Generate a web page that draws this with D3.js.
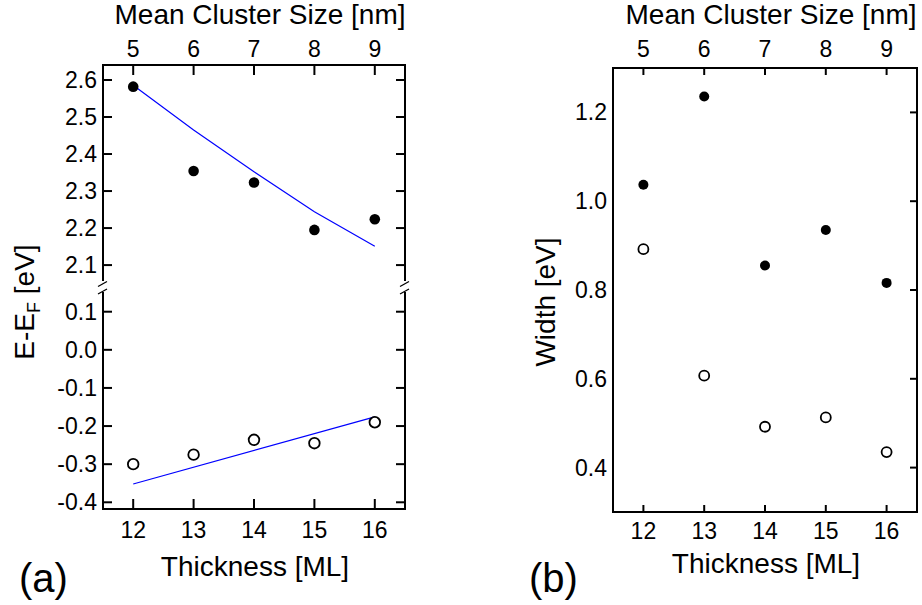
<!DOCTYPE html>
<html>
<head>
<meta charset="utf-8">
<script src="https://cdn.jsdelivr.net/npm/d3@7"></script>
<style>
  html, body { margin: 0; padding: 0; background: #fff; }
  svg { display: block; font-family: "Liberation Sans", Arial, sans-serif; }
</style>
</head>
<body>
<svg id="chart" width="922" height="605"></svg>
<script>
// Data
const thickness = [12, 13, 14, 15, 16];          // bottom axis [ML]
const clusterSize = [5, 6, 7, 8, 9];             // top axis [nm]
const energyFilled = [2.582, 2.354, 2.323, 2.195, 2.224];
const energyOpen = [-0.300, -0.275, -0.236, -0.245, -0.190];
const fitFilled = [2.586, 2.465, 2.352, 2.244, 2.151];
const fitOpenX = [12, 16];
const fitOpen = [-0.352, -0.176];
const widthFilled = [1.037, 1.236, 0.855, 0.935, 0.816];
const widthOpen = [0.892, 0.607, 0.492, 0.513, 0.435];

const upperTicks = [2.1, 2.2, 2.3, 2.4, 2.5, 2.6];
const lowerTicks = [-0.4, -0.3, -0.2, -0.1, 0.0, 0.1];
const widthTicks = [0.4, 0.6, 0.8, 1.0, 1.2];

const svg = d3.select('#chart');
const fmt = v => d3.format('.1f')(v).replace('\u2212', '-');
const tickFont = '23px';
const titleFont = '28px';

// simple helper: inward ticks along one side of a frame
function ticks(g, vals, scale, side, pos, len) {
  g.selectAll(null).data(vals).enter().append('line')
    .attr('x1', d => (side === 'l' || side === 'r') ? pos : scale(d))
    .attr('x2', d => side === 'l' ? pos + len : side === 'r' ? pos - len : scale(d))
    .attr('y1', d => (side === 't' || side === 'b') ? pos : scale(d))
    .attr('y2', d => side === 't' ? pos + len : side === 'b' ? pos - len : scale(d))
    .attr('stroke', '#000').attr('stroke-width', 2);
}

function labels(g, vals, scale, side, pos, text) {
  g.selectAll(null).data(vals).enter().append('text')
    .attr('x', d => side === 'l' ? pos : scale(d))
    .attr('y', d => side === 'l' ? scale(d) + 8 : pos)
    .attr('text-anchor', side === 'l' ? 'end' : 'middle')
    .style('font-size', tickFont)
    .text(text);
}

// ---------- Panel (a) ----------
const ga = svg.append('g');
const xA = d3.scaleLinear().domain([11.5, 16.5]).range([103, 405]);
const xTopA = d3.scaleLinear().domain([4.5, 9.5]).range([103, 405]);
const yUp = d3.scaleLinear().domain([2.057, 2.6405]).range([281, 65]);
const yLo = d3.scaleLinear().domain([-0.4176, 0.1517]).range([509, 292]);

// frame
const [aL, aR] = xA.range();
const aTop = yUp.range()[1], aBreak1 = yUp.range()[0], aBreak2 = yLo.range()[1], aBot = yLo.range()[0];
ga.append('line').attr('x1', aL).attr('x2', aR).attr('y1', aTop).attr('y2', aTop).attr('stroke', '#000').attr('stroke-width', 2);
ga.append('line').attr('x1', aL).attr('x2', aR).attr('y1', aBot).attr('y2', aBot).attr('stroke', '#000').attr('stroke-width', 2);
[aL, aR].forEach(x => {
  ga.append('line').attr('x1', x).attr('x2', x).attr('y1', aTop - 1).attr('y2', aBreak1).attr('stroke', '#000').attr('stroke-width', 2);
  ga.append('line').attr('x1', x).attr('x2', x).attr('y1', aBreak2).attr('y2', aBot + 1).attr('stroke', '#000').attr('stroke-width', 2);
  // break marks
  [aBreak1 + 3, aBreak2 - 0.5].forEach(y => {
    ga.append('line').attr('x1', x - 5).attr('x2', x + 4).attr('y1', y + 2.5).attr('y2', y - 2.5)
      .attr('stroke', '#000').attr('stroke-width', 1.3);
  });
});

ticks(ga, upperTicks, yUp, 'l', aL, 9);
ticks(ga, upperTicks, yUp, 'r', aR, 9);
ticks(ga, lowerTicks, yLo, 'l', aL, 9);
ticks(ga, lowerTicks, yLo, 'r', aR, 9);
ticks(ga, clusterSize, xTopA, 't', aTop, 10);
ticks(ga, thickness, xA, 'b', aBot, 10);

labels(ga, upperTicks, yUp, 'l', aL - 6, fmt);
labels(ga, lowerTicks, yLo, 'l', aL - 6, fmt);
labels(ga, clusterSize, xTopA, 't', 57, d => d);
labels(ga, thickness, xA, 'b', 538, d => d);

// fits
ga.append('path')
  .datum(thickness.map((t, i) => [t, fitFilled[i]]))
  .attr('fill', 'none').attr('stroke', '#0000ff').attr('stroke-width', 1.2)
  .attr('d', d3.line().x(d => xA(d[0])).y(d => yUp(d[1])));
ga.append('path')
  .datum(fitOpenX.map((t, i) => [t, fitOpen[i]]))
  .attr('fill', 'none').attr('stroke', '#0000ff').attr('stroke-width', 1.2)
  .attr('d', d3.line().x(d => xA(d[0])).y(d => yLo(d[1])));

// points
ga.selectAll('.fa').data(thickness).enter().append('circle')
  .attr('cx', d => xA(d)).attr('cy', (d, i) => yUp(energyFilled[i]))
  .attr('r', 5.3).attr('fill', '#000');
ga.selectAll('.oa').data(thickness).enter().append('circle')
  .attr('cx', d => xA(d)).attr('cy', (d, i) => yLo(energyOpen[i]))
  .attr('r', 5.3).attr('fill', '#fff').attr('stroke', '#000').attr('stroke-width', 1.8);

// titles
ga.append('text').attr('x', (aL + aR) / 2 + 6).attr('y', 24).attr('text-anchor', 'middle')
  .style('font-size', titleFont).text('Mean Cluster Size [nm]');
ga.append('text').attr('x', (aL + aR) / 2 + 1).attr('y', 576).attr('text-anchor', 'middle')
  .style('font-size', titleFont).text('Thickness [ML]');
const yt = ga.append('text').attr('transform', 'translate(34,302) rotate(-90)')
  .attr('text-anchor', 'middle').style('font-size', titleFont);
yt.append('tspan').text('E-E');
yt.append('tspan').attr('dy', 6).style('font-size', '18px').text('F');
yt.append('tspan').attr('dy', -6).text(' [eV]');
ga.append('text').attr('x', 19).attr('y', 592).style('font-size', '40px').text('(a)');

// ---------- Panel (b) ----------
const gb = svg.append('g');
const xB = d3.scaleLinear().domain([11.5, 16.5]).range([613, 917]);
const xTopB = d3.scaleLinear().domain([4.5, 9.5]).range([613, 917]);
const yB = d3.scaleLinear().domain([0.3, 1.3]).range([512, 68]);
const [bL, bR] = xB.range();
const [bBot, bTop] = yB.range();

gb.append('rect').attr('x', bL).attr('y', bTop).attr('width', bR - bL).attr('height', bBot - bTop)
  .attr('fill', 'none').attr('stroke', '#000').attr('stroke-width', 2);

ticks(gb, widthTicks, yB, 'r', bR, 7);
ticks(gb, clusterSize, xTopB, 't', bTop, 7);
ticks(gb, thickness, xB, 'b', bBot, 7);

labels(gb, widthTicks, yB, 'l', bL - 6, fmt);
labels(gb, clusterSize, xTopB, 't', 57, d => d);
labels(gb, thickness, xB, 'b', 539, d => d);

gb.selectAll('.fb').data(thickness).enter().append('circle')
  .attr('cx', d => xB(d)).attr('cy', (d, i) => yB(widthFilled[i]))
  .attr('r', 5).attr('fill', '#000');
gb.selectAll('.ob').data(thickness).enter().append('circle')
  .attr('cx', d => xB(d)).attr('cy', (d, i) => yB(widthOpen[i]))
  .attr('r', 5).attr('fill', '#fff').attr('stroke', '#000').attr('stroke-width', 1.8);

gb.append('text').attr('x', (bL + bR) / 2 + 6).attr('y', 24).attr('text-anchor', 'middle')
  .style('font-size', titleFont).text('Mean Cluster Size [nm]');
gb.append('text').attr('x', (bL + bR) / 2 + 1).attr('y', 573).attr('text-anchor', 'middle')
  .style('font-size', titleFont).text('Thickness [ML]');
gb.append('text').attr('transform', 'translate(555,302) rotate(-90)')
  .attr('text-anchor', 'middle').style('font-size', titleFont).text('Width [eV]');
gb.append('text').attr('x', 529).attr('y', 592).style('font-size', '40px').text('(b)');
</script>
</body>
</html>
